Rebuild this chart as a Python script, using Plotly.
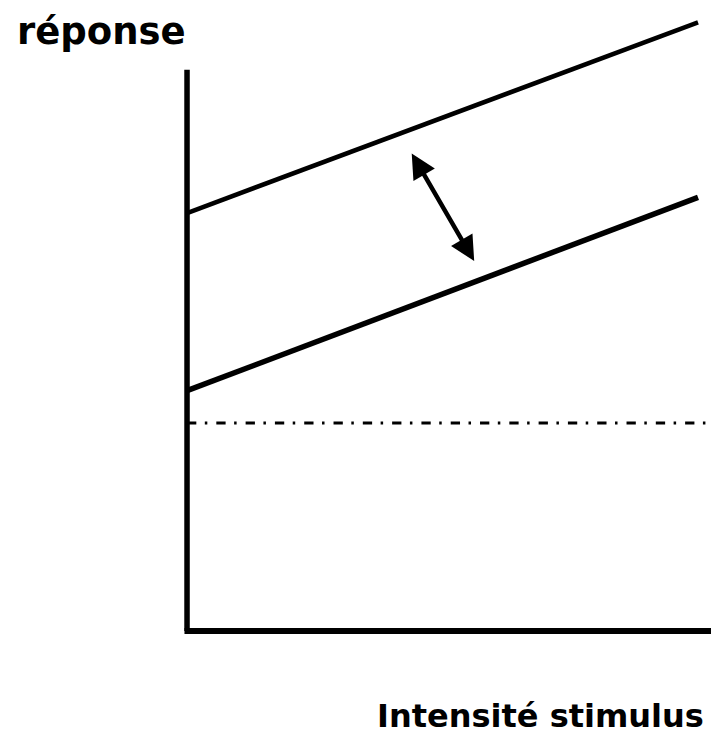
import plotly.graph_objects as go

# Conceptual data (stimulus intensity vs response)
stimulus = [0, 10]
response_high = [8.0, 11.65]
response_low = [4.6, 8.3]
baseline_level = 3.98
x_axis_extent = [0, 10.26]
y_axis_extent = [0, 10.74]
arrow_top = (4.38, 9.17)
arrow_bottom = (5.62, 7.08)

x_label = "Intensité stimulus"
y_label = "réponse"

FONT = "Comic Sans MS, DejaVu Sans, sans-serif"

fig = go.Figure()

# axes drawn as lines
fig.add_trace(go.Scatter(x=[x_axis_extent[0], x_axis_extent[0]], y=y_axis_extent,
                         mode="lines", line=dict(color="black", width=5.5),
                         hoverinfo="skip", showlegend=False))
fig.add_trace(go.Scatter(x=[x_axis_extent[0] - 0.05, x_axis_extent[1]], y=[0, 0],
                         mode="lines", line=dict(color="black", width=6),
                         hoverinfo="skip", showlegend=False))

# baseline (dash-dot)
fig.add_trace(go.Scatter(x=x_axis_extent, y=[baseline_level, baseline_level],
                         mode="lines", line=dict(color="black", width=3, dash="9.3px,8.5px,2.5px,9px"),
                         hoverinfo="skip", showlegend=False))

# response lines
fig.add_trace(go.Scatter(x=stimulus, y=response_high, mode="lines",
                         line=dict(color="black", width=4.5),
                         hoverinfo="skip", showlegend=False))
fig.add_trace(go.Scatter(x=stimulus, y=response_low, mode="lines",
                         line=dict(color="black", width=5.5),
                         hoverinfo="skip", showlegend=False))

# double arrow
fig.add_annotation(x=arrow_bottom[0], y=arrow_bottom[1], ax=arrow_top[0], ay=arrow_top[1],
                   xref="x", yref="y", axref="x", ayref="y", text="",
                   showarrow=True, arrowhead=2, startarrowhead=2, arrowside="end+start",
                   arrowwidth=4.5, arrowsize=1.1, startarrowsize=1.1, arrowcolor="black")

# labels
fig.add_annotation(x=15 / 711, y=1 - 32 / 742, xref="paper", yref="paper",
                   xanchor="left", yanchor="middle", showarrow=False,
                   text="<b>" + y_label + "</b>",
                   font=dict(family=FONT, size=37, color="black"))
fig.add_annotation(x=706 / 711, y=1 - 716 / 742, xref="paper", yref="paper",
                   xanchor="right", yanchor="middle", showarrow=False,
                   text="<b>" + x_label + "</b>",
                   font=dict(family=FONT, size=32, color="black"))

fig.update_layout(
    width=711, height=742,
    margin=dict(l=0, r=0, t=0, b=0),
    paper_bgcolor="white", plot_bgcolor="white",
    xaxis=dict(range=[-3.66, 10.254], visible=False, fixedrange=True),
    yaxis=dict(range=[-2.124, 12.077], visible=False, fixedrange=True),
    showlegend=False,
)

fig.write_html("out.html", config={"displayModeBar": False},
               post_script="document.body.style.margin='0';document.body.style.overflow='hidden';")
